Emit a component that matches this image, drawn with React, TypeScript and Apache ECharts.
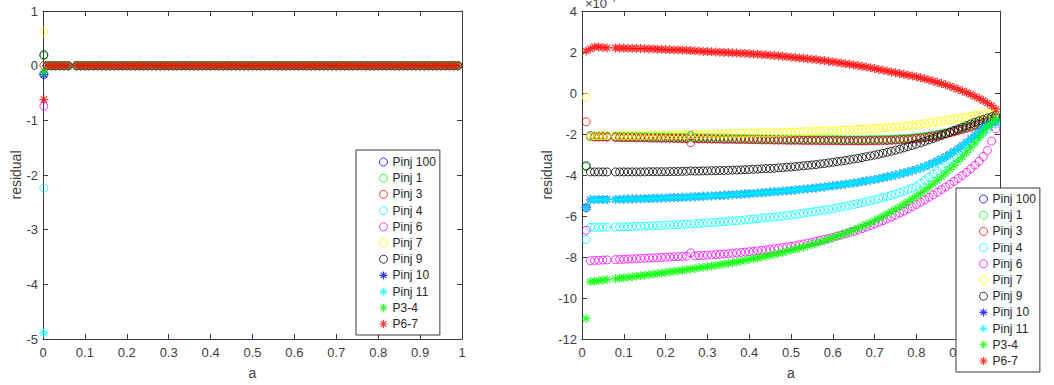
import React, { useEffect, useRef } from "react";
import * as echarts from "echarts";

// x positions (a) of the residual samples
const XS = [
  0.01, 0.02, 0.03, 0.04, 0.05, 0.06, 0.08, 0.09, 0.1,
  0.11, 0.12, 0.13, 0.14, 0.15, 0.16, 0.17, 0.18, 0.19, 0.2,
  0.21, 0.22, 0.23, 0.24, 0.25, 0.26, 0.27, 0.28, 0.29, 0.3,
  0.31, 0.32, 0.33, 0.34, 0.35, 0.36, 0.37, 0.38, 0.39, 0.4,
  0.41, 0.42, 0.43, 0.44, 0.45, 0.46, 0.47, 0.48, 0.49, 0.5,
  0.51, 0.52, 0.53, 0.54, 0.55, 0.56, 0.57, 0.58, 0.59, 0.6,
  0.61, 0.62, 0.63, 0.64, 0.65, 0.66, 0.67, 0.68, 0.69, 0.7,
  0.71, 0.72, 0.73, 0.74, 0.75, 0.76, 0.77, 0.78, 0.79, 0.8,
  0.81, 0.82, 0.83, 0.84, 0.85, 0.86, 0.87, 0.88, 0.89, 0.9,
  0.91, 0.92, 0.93, 0.94, 0.95, 0.96, 0.97, 0.98, 0.99,
];

// residuals in units of 1e-4 (right panel)
const PINJ_100 = [
  -5.6, -2.08, -2.12, -2.12, -2.12, -2.13, -2.14, -2.14, -2.15,
  -2.15, -2.15, -2.16, -2.16, -2.16, -2.17, -2.17, -2.17, -2.18, -2.18,
  -2.18, -2.19, -2.19, -2.19, -2.2, -2.08, -2.2, -2.21, -2.21, -2.21,
  -2.22, -2.22, -2.22, -2.23, -2.23, -2.23, -2.24, -2.24, -2.24, -2.25,
  -2.25, -2.25, -2.26, -2.26, -2.26, -2.27, -2.27, -2.27, -2.28, -2.28,
  -2.28, -2.28, -2.29, -2.29, -2.29, -2.29, -2.3, -2.3, -2.3, -2.3,
  -2.3, -2.31, -2.31, -2.31, -2.31, -2.31, -2.31, -2.31, -2.3, -2.3,
  -2.3, -2.29, -2.29, -2.28, -2.27, -2.26, -2.25, -2.24, -2.22, -2.2,
  -2.18, -2.15, -2.12, -2.09, -2.05, -2.01, -1.97, -1.92, -1.87, -1.81,
  -1.75, -1.69, -1.63, -1.56, -1.49, -1.42, -1.35, -1.28, -1.21,
];
const PINJ_1 = [
  -3.6, -2.15, -2.1, -2.09, -2.09, -2.1, -2.11, -2.11, -2.12,
  -2.12, -2.12, -2.13, -2.13, -2.13, -2.14, -2.14, -2.14, -2.15, -2.15,
  -2.15, -2.16, -2.16, -2.16, -2.17, -2.17, -2.17, -2.18, -2.18, -2.18,
  -2.19, -2.19, -2.19, -2.2, -2.2, -2.2, -2.21, -2.21, -2.21, -2.22,
  -2.22, -2.22, -2.23, -2.23, -2.23, -2.24, -2.24, -2.24, -2.25, -2.25,
  -2.25, -2.25, -2.26, -2.26, -2.26, -2.26, -2.27, -2.27, -2.27, -2.27,
  -2.27, -2.28, -2.28, -2.28, -2.28, -2.28, -2.28, -2.28, -2.27, -2.27,
  -2.27, -2.26, -2.26, -2.25, -2.24, -2.23, -2.22, -2.21, -2.19, -2.17,
  -2.15, -2.12, -2.09, -2.06, -2.02, -1.98, -1.94, -1.89, -1.84, -1.78,
  -1.72, -1.66, -1.6, -1.53, -1.46, -1.39, -1.32, -1.25, -1.18,
];
const PINJ_3 = [
  -1.4, -2.1, -2.15, -2.15, -2.15, -2.16, -2.17, -2.17, -2.18,
  -2.18, -2.18, -2.19, -2.19, -2.19, -2.2, -2.2, -2.2, -2.21, -2.21,
  -2.21, -2.22, -2.22, -2.22, -2.23, -2.42, -2.23, -2.24, -2.24, -2.24,
  -2.25, -2.25, -2.25, -2.26, -2.26, -2.26, -2.27, -2.27, -2.27, -2.28,
  -2.28, -2.28, -2.29, -2.29, -2.29, -2.3, -2.3, -2.3, -2.31, -2.31,
  -2.31, -2.31, -2.32, -2.32, -2.32, -2.32, -2.33, -2.33, -2.33, -2.33,
  -2.33, -2.34, -2.34, -2.34, -2.34, -2.34, -2.34, -2.34, -2.33, -2.33,
  -2.33, -2.32, -2.32, -2.31, -2.3, -2.29, -2.28, -2.27, -2.25, -2.23,
  -2.21, -2.18, -2.15, -2.12, -2.08, -2.04, -2.0, -1.95, -1.9, -1.84,
  -1.78, -1.72, -1.66, -1.59, -1.52, -1.45, -1.38, -1.31, -1.24,
];
const PINJ_4 = [
  -7.15, -6.55, -6.55, -6.55, -6.54, -6.54, -6.53, -6.53, -6.52,
  -6.52, -6.51, -6.51, -6.5, -6.49, -6.49, -6.48, -6.47, -6.46, -6.45,
  -6.44, -6.43, -6.42, -6.41, -6.4, -6.39, -6.38, -6.36, -6.35, -6.34,
  -6.32, -6.31, -6.29, -6.28, -6.26, -6.24, -6.23, -6.21, -6.19, -6.17,
  -6.15, -6.13, -6.11, -6.09, -6.07, -6.05, -6.02, -6.0, -5.97, -5.95,
  -5.92, -5.89, -5.86, -5.83, -5.8, -5.77, -5.74, -5.71, -5.67, -5.64,
  -5.6, -5.56, -5.52, -5.48, -5.44, -5.4, -5.35, -5.31, -5.26, -5.21,
  -5.16, -5.1, -5.05, -4.99, -4.93, -4.86, -4.79, -4.72, -4.64, -4.56,
  -4.4, -4.25, -4.1, -3.95, -3.8, -3.62, -3.45, -3.28, -3.12, -2.96,
  -2.8, -2.62, -2.44, -2.27, -2.1, -1.93, -1.77, -1.62, -1.5,
];
const PINJ_6 = [
  -6.7, -8.18, -8.17, -8.16, -8.15, -8.14, -8.13, -8.12, -8.11,
  -8.1, -8.09, -8.08, -8.07, -8.06, -8.05, -8.04, -8.03, -8.02, -8.01,
  -8.0, -7.99, -7.98, -7.97, -7.96, -7.8, -7.94, -7.93, -7.92, -7.91,
  -7.9, -7.88, -7.87, -7.85, -7.84, -7.82, -7.8, -7.78, -7.76, -7.74,
  -7.72, -7.7, -7.67, -7.65, -7.62, -7.6, -7.57, -7.54, -7.51, -7.48,
  -7.44, -7.4, -7.36, -7.32, -7.28, -7.24, -7.19, -7.14, -7.09, -7.04,
  -6.98, -6.93, -6.87, -6.81, -6.75, -6.68, -6.61, -6.54, -6.47, -6.39,
  -6.31, -6.23, -6.14, -6.05, -5.96, -5.86, -5.76, -5.66, -5.55, -5.44,
  -5.33, -5.21, -5.09, -4.97, -4.84, -4.71, -4.58, -4.45, -4.31, -4.17,
  -4.02, -3.87, -3.7, -3.52, -3.33, -3.1, -2.8, -2.35, -1.75,
];
const PINJ_7 = [
  -0.2, -2.1, -2.08, -2.08, -2.08, -2.08, -2.08, -2.07, -2.07,
  -2.07, -2.07, -2.06, -2.06, -2.06, -2.05, -2.05, -2.05, -2.05, -2.04,
  -2.04, -2.04, -2.03, -2.03, -2.03, -2.02, -2.02, -2.02, -2.01, -2.01,
  -2.0, -2.0, -2.0, -1.99, -1.99, -1.98, -1.98, -1.97, -1.97, -1.96,
  -1.96, -1.95, -1.95, -1.94, -1.94, -1.93, -1.93, -1.92, -1.92, -1.91,
  -1.9, -1.9, -1.89, -1.88, -1.88, -1.87, -1.86, -1.85, -1.84, -1.84,
  -1.83, -1.82, -1.81, -1.8, -1.79, -1.78, -1.77, -1.76, -1.74, -1.73,
  -1.72, -1.7, -1.69, -1.67, -1.66, -1.64, -1.62, -1.6, -1.58, -1.56,
  -1.52, -1.49, -1.46, -1.43, -1.4, -1.37, -1.34, -1.3, -1.27, -1.23,
  -1.2, -1.17, -1.13, -1.1, -1.07, -1.03, -1.0, -0.97, -0.94,
];
const PINJ_9 = [
  -3.55, -3.85, -3.85, -3.85, -3.85, -3.85, -3.85, -3.85, -3.85,
  -3.85, -3.85, -3.85, -3.85, -3.85, -3.84, -3.84, -3.84, -3.84, -3.84,
  -3.83, -3.83, -3.83, -3.82, -3.82, -3.8, -3.81, -3.81, -3.8, -3.8,
  -3.79, -3.79, -3.78, -3.78, -3.77, -3.76, -3.76, -3.75, -3.74, -3.73,
  -3.72, -3.71, -3.7, -3.69, -3.68, -3.67, -3.65, -3.64, -3.62, -3.61,
  -3.59, -3.57, -3.55, -3.53, -3.51, -3.49, -3.46, -3.44, -3.41, -3.38,
  -3.35, -3.32, -3.29, -3.26, -3.22, -3.19, -3.15, -3.11, -3.07, -3.03,
  -2.99, -2.94, -2.89, -2.84, -2.79, -2.74, -2.68, -2.62, -2.56, -2.5,
  -2.43, -2.36, -2.29, -2.22, -2.15, -2.07, -1.99, -1.91, -1.83, -1.75,
  -1.67, -1.59, -1.51, -1.43, -1.36, -1.29, -1.22, -1.16, -1.1,
];
const PINJ_10 = [
  -5.58, -5.21, -5.2, -5.2, -5.19, -5.19, -5.19, -5.18, -5.18,
  -5.17, -5.17, -5.16, -5.16, -5.15, -5.15, -5.14, -5.13, -5.13, -5.12,
  -5.11, -5.1, -5.1, -5.09, -5.08, -5.07, -5.06, -5.05, -5.04, -5.03,
  -5.02, -5.01, -5.0, -4.99, -4.97, -4.96, -4.95, -4.94, -4.92, -4.91,
  -4.9, -4.88, -4.87, -4.85, -4.83, -4.82, -4.8, -4.78, -4.77, -4.75,
  -4.73, -4.71, -4.69, -4.67, -4.65, -4.63, -4.6, -4.58, -4.55, -4.53,
  -4.5, -4.48, -4.45, -4.42, -4.39, -4.36, -4.32, -4.29, -4.25, -4.22,
  -4.18, -4.13, -4.09, -4.05, -4.0, -3.95, -3.9, -3.85, -3.79, -3.73,
  -3.66, -3.58, -3.5, -3.41, -3.31, -3.21, -3.1, -2.98, -2.85, -2.71,
  -2.56, -2.4, -2.23, -2.05, -1.87, -1.7, -1.55, -1.45, -1.38,
];
const PINJ_11 = [
  -5.6, -5.22, -5.2, -5.2, -5.2, -5.2, -5.19, -5.19, -5.18,
  -5.18, -5.17, -5.17, -5.16, -5.16, -5.15, -5.14, -5.14, -5.13, -5.12,
  -5.11, -5.11, -5.1, -5.09, -5.08, -5.07, -5.06, -5.05, -5.04, -5.03,
  -5.02, -5.01, -5.0, -4.99, -4.98, -4.96, -4.95, -4.94, -4.93, -4.91,
  -4.9, -4.88, -4.87, -4.85, -4.84, -4.82, -4.8, -4.79, -4.77, -4.75,
  -4.73, -4.71, -4.69, -4.67, -4.65, -4.63, -4.61, -4.58, -4.56, -4.53,
  -4.51, -4.48, -4.45, -4.42, -4.39, -4.36, -4.33, -4.29, -4.26, -4.22,
  -4.18, -4.14, -4.1, -4.05, -4.01, -3.96, -3.91, -3.85, -3.8, -3.74,
  -3.66, -3.58, -3.5, -3.41, -3.32, -3.22, -3.11, -2.99, -2.86, -2.72,
  -2.57, -2.41, -2.24, -2.06, -1.88, -1.7, -1.55, -1.45, -1.38,
];
const P3_4 = [
  -11.0, -9.2, -9.18, -9.15, -9.13, -9.1, -9.06, -9.04, -9.01,
  -8.99, -8.96, -8.94, -8.91, -8.89, -8.86, -8.84, -8.81, -8.78, -8.76,
  -8.73, -8.7, -8.68, -8.65, -8.62, -8.59, -8.56, -8.53, -8.5, -8.47,
  -8.44, -8.41, -8.38, -8.34, -8.31, -8.27, -8.24, -8.2, -8.16, -8.12,
  -8.08, -8.04, -8.0, -7.96, -7.91, -7.87, -7.82, -7.77, -7.72, -7.67,
  -7.62, -7.56, -7.51, -7.45, -7.39, -7.33, -7.27, -7.2, -7.13, -7.06,
  -6.99, -6.92, -6.84, -6.76, -6.68, -6.59, -6.5, -6.41, -6.32, -6.22,
  -6.12, -6.01, -5.9, -5.79, -5.67, -5.55, -5.43, -5.3, -5.17, -5.03,
  -4.89, -4.74, -4.59, -4.43, -4.26, -4.09, -3.91, -3.72, -3.53, -3.33,
  -3.12, -2.9, -2.67, -2.43, -2.18, -1.92, -1.65, -1.45, -1.3,
];
const P6_7 = [
  2.05, 2.15, 2.25, 2.25, 2.22, 2.2, 2.2, 2.19, 2.19,
  2.18, 2.18, 2.17, 2.17, 2.16, 2.15, 2.15, 2.14, 2.13, 2.12,
  2.11, 2.1, 2.1, 2.09, 2.08, 2.07, 2.06, 2.05, 2.03, 2.02,
  2.01, 2.0, 1.99, 1.98, 1.97, 1.96, 1.95, 1.94, 1.93, 1.92,
  1.9, 1.89, 1.87, 1.86, 1.84, 1.83, 1.81, 1.79, 1.77, 1.75,
  1.73, 1.71, 1.69, 1.67, 1.65, 1.63, 1.6, 1.58, 1.55, 1.52,
  1.49, 1.46, 1.43, 1.4, 1.37, 1.34, 1.3, 1.27, 1.23, 1.19,
  1.15, 1.11, 1.07, 1.03, 0.99, 0.95, 0.91, 0.87, 0.83, 0.79,
  0.74, 0.69, 0.64, 0.58, 0.52, 0.46, 0.4, 0.33, 0.26, 0.18,
  0.1, 0.02, -0.07, -0.16, -0.26, -0.37, -0.49, -0.62, -0.78,
];

// left panel: extra first sample near a = 0 (raw residual values)
const LEFT_FIRST_X = 0.002;
const LEFT_FIRST = [-0.16, 0.18, 0.0, -2.24, -0.74, 0.62, 0.2, -0.16, -4.89, -0.12, -0.62];

const NAMES = ["Pinj 100", "Pinj 1", "Pinj 3", "Pinj 4", "Pinj 6", "Pinj 7", "Pinj 9", "Pinj 10", "Pinj 11", "P3-4", "P6-7"];
const COLORS = ["#0000ff", "#00ff00", "#ff0000", "#00ffff", "#ff00ff", "#ffff00", "#000000", "#0000ff", "#00ffff", "#00ff00", "#ff0000"];
const MARKERS = ["o", "o", "o", "o", "o", "o", "o", "*", "*", "*", "*"];
const RIGHT_VALUES = [PINJ_100, PINJ_1, PINJ_3, PINJ_4, PINJ_6, PINJ_7, PINJ_9, PINJ_10, PINJ_11, P3_4, P6_7];

const LEFT_X_TICKS = { min: 0, max: 1, interval: 0.1 };
const LEFT_Y_TICKS = { min: -5, max: 1, interval: 1 };
const RIGHT_X_TICKS = { min: 0, max: 1, interval: 0.1 };
const RIGHT_Y_TICKS = { min: -12, max: 4, interval: 2 };
const RIGHT_SCALE_LABEL = "×10";
const RIGHT_SCALE_EXP = "-4";

const STAR =
  "path://M4.3,0H5.7V10H4.3Z M0,4.3H10V5.7H0Z M2.0,1.0L9.0,8.0L8.0,9.0L1.0,2.0Z M8.0,1.0L9.0,2.0L2.0,9.0L1.0,8.0Z";

const FONT = "'Liberation Sans', Arial, Helvetica, sans-serif";
const AX = "#3a3a3a";
const LBL = "#404040";

export default function App() {
  const ref = useRef<HTMLDivElement>(null);

  useEffect(() => {
    const chart = echarts.init(ref.current!, null, { renderer: "svg" });

    const markerStyle = (i: number) =>
      MARKERS[i] === "o"
        ? { symbol: "circle", symbolSize: 8, itemStyle: { color: "transparent", borderColor: COLORS[i], borderWidth: 1 } }
        : { symbol: STAR, symbolSize: 9, itemStyle: { color: COLORS[i], borderWidth: 0 } };

    const series: any[] = [];
    NAMES.forEach((name, i) => {
      const leftData = [[LEFT_FIRST_X, LEFT_FIRST[i]]].concat(XS.map((x, j) => [x, RIGHT_VALUES[i][j] * 1e-4]));
      series.push({
        type: "scatter",
        name,
        xAxisIndex: 0,
        yAxisIndex: 0,
        data: leftData,
        ...markerStyle(i),
        emphasis: { disabled: true },
      });
    });
    NAMES.forEach((name, i) => {
      series.push({
        type: "scatter",
        name,
        xAxisIndex: 2,
        yAxisIndex: 2,
        data: XS.map((x, j) => [x, RIGHT_VALUES[i][j]]),
        ...markerStyle(i),
        emphasis: { disabled: true },
      });
    });

    const legendData = NAMES.map((name, i) =>
      MARKERS[i] === "o"
        ? { name, icon: "circle", itemStyle: { color: "transparent", borderColor: COLORS[i], borderWidth: 1 } }
        : { name, icon: STAR, itemStyle: { color: COLORS[i], borderWidth: 0 } }
    );

    const legendCommon = {
      orient: "vertical",
      itemWidth: 8,
      itemHeight: 8,
      itemGap: 2.2,
      itemTextGap: 20,
      backgroundColor: "#ffffff",
      borderColor: AX,
      borderWidth: 1,
      borderRadius: 0,
      selectedMode: false,
      textStyle: { fontSize: 12, color: "#262626", fontFamily: FONT, lineHeight: 14 },
      data: legendData,
      z: 20,
    };

    const axisBase = (extra: any) => ({
      type: "value",
      axisLine: { show: true, onZero: false, lineStyle: { color: AX, width: 1 } },
      axisTick: { show: true, inside: true, length: 5, lineStyle: { color: AX } },
      splitLine: { show: false },
      axisLabel: { color: LBL, fontSize: 13, fontFamily: FONT },
      ...extra,
    });

    const nameStyle = { color: LBL, fontSize: 14, fontFamily: FONT };
    const labelStyle = { color: LBL, fontSize: 13, fontFamily: FONT };

    const option: any = {
      animation: false,
      backgroundColor: "#ffffff",
      grid: [
        { left: 43, top: 11, width: 419, height: 330, show: false },
        { left: 582, top: 11, width: 418, height: 330, show: false },
      ],
      xAxis: [
        axisBase({ gridIndex: 0, position: "bottom", ...LEFT_X_TICKS, name: "a", nameLocation: "middle", nameGap: 27, nameTextStyle: nameStyle, axisLabel: { ...labelStyle, margin: 7 } }),
        axisBase({ gridIndex: 0, position: "top", ...LEFT_X_TICKS, axisLabel: { show: false } }),
        axisBase({
          gridIndex: 1, position: "bottom", ...RIGHT_X_TICKS, name: "a", nameLocation: "middle", nameGap: 27, nameTextStyle: nameStyle,
          // the label at a = 1 lies under the legend box
          axisLabel: { ...labelStyle, margin: 7, formatter: (v: number) => (v >= 1 ? "" : String(Math.round(v * 10) / 10)) },
        }),
        axisBase({ gridIndex: 1, position: "top", ...RIGHT_X_TICKS, axisLabel: { show: false } }),
      ],
      yAxis: [
        axisBase({ gridIndex: 0, position: "left", ...LEFT_Y_TICKS, name: "residual", nameLocation: "middle", nameGap: 16, nameRotate: 90, nameTextStyle: nameStyle, axisLabel: { ...labelStyle, margin: 5 } }),
        axisBase({ gridIndex: 0, position: "right", ...LEFT_Y_TICKS, axisLabel: { show: false } }),
        axisBase({ gridIndex: 1, position: "left", ...RIGHT_Y_TICKS, name: "residual", nameLocation: "middle", nameGap: 26, nameRotate: 90, nameTextStyle: nameStyle, axisLabel: { ...labelStyle, margin: 5 } }),
        axisBase({ gridIndex: 1, position: "right", ...RIGHT_Y_TICKS, axisLabel: { show: false } }),
      ],
      legend: [
        { ...legendCommon, left: 356, top: 150, padding: [5, 4, 4, 23] },
        { ...legendCommon, left: 956, top: 188, padding: [4, 4, 4, 23] },
      ],
      graphic: [
        { type: "text", left: 585, top: -3, z: 30, style: { text: RIGHT_SCALE_LABEL, fontSize: 13, fill: LBL, fontFamily: FONT } },
        { type: "text", left: 607, top: -7, z: 30, style: { text: RIGHT_SCALE_EXP, fontSize: 10, fill: LBL, fontFamily: FONT } },
      ],
      series,
    };

    chart.setOption(option);
    return () => chart.dispose();
  }, []);

  return <div ref={ref} style={{ position: "absolute", left: 0, top: 0, width: 1054, height: 385 }} />;
}
